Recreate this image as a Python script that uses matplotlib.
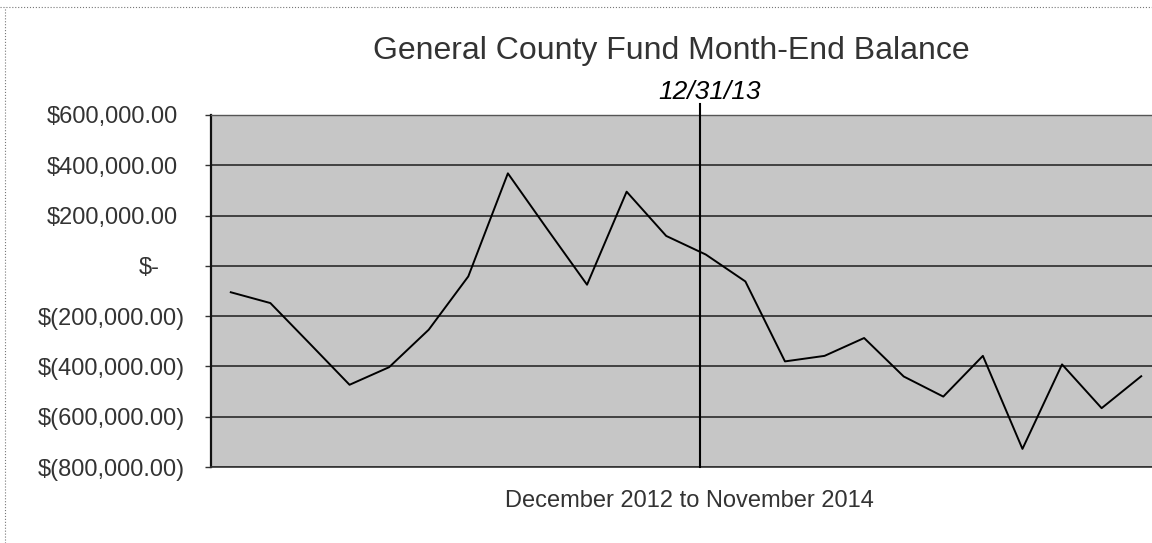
import matplotlib.pyplot as plt
from matplotlib.lines import Line2D

# month-end balances, Dec 2012 .. Nov 2014
months = ["Dec-12", "Jan-13", "Feb-13", "Mar-13", "Apr-13", "May-13", "Jun-13",
          "Jul-13", "Aug-13", "Sep-13", "Oct-13", "Nov-13", "Dec-13", "Jan-14",
          "Feb-14", "Mar-14", "Apr-14", "May-14", "Jun-14", "Jul-14", "Aug-14",
          "Sep-14", "Oct-14", "Nov-14"]
balance = [-105000, -148000, -310000, -473000, -403000, -254000, -42000,
           368000, 145000, -75000, 295000, 119000, 45000, -62000,
           -380000, -358000, -287000, -440000, -520000, -358000, -728000,
           -392000, -566000, -439000]
y_ticks = [600000, 400000, 200000, 0, -200000, -400000, -600000, -800000]
marker_pos = 11.85   # hand-drawn line at 12/31/13
marker_text = "12/31/13"

plt.rcParams['font.family'] = ['Liberation Sans', 'DejaVu Sans']

fig = plt.figure(figsize=(11.52, 5.43), dpi=100)
ax = fig.add_axes([211 / 1152, 76 / 543, 950 / 1152, 352 / 543])
ax.set_facecolor('#c6c6c6')

x = list(range(len(months)))
ax.plot(x, balance, color='black', linewidth=1.4, zorder=3)

ax.set_xlim(-0.5, len(months) - 0.5)
ax.set_ylim(-800000, 600000)
ax.set_xticks([])


def money(v):
    if v == 0:
        return "$-"
    if v < 0:
        return "$({:,.2f})".format(-v)
    return "${:,.2f}".format(v)


ax.set_yticks(y_ticks)
ax.set_yticklabels([money(v) for v in y_ticks], fontsize=17, color='#333333')
ax.tick_params(axis='y', direction='out', length=4, width=1, color='#333333')
for v, tick in zip(y_ticks, ax.yaxis.get_major_ticks()):
    if v < 0:
        tick.set_pad(15)
    elif v == 0:
        tick.set_pad(33)
    else:
        tick.set_pad(20)

ax.yaxis.grid(True, color='#2b2b2b', linewidth=1.2)
ax.set_axisbelow(True)

ax.spines['right'].set_visible(False)
ax.spines['left'].set_color('#111111')
ax.spines['left'].set_linewidth(1.6)
ax.spines['top'].set_color('#555555')
ax.spines['top'].set_linewidth(1.0)
ax.spines['bottom'].set_color('#333333')
ax.spines['bottom'].set_linewidth(1.2)

ax.axvline(marker_pos, ymin=0, ymax=1.03, color='black', linewidth=1.5,
           clip_on=False, zorder=4)

fig.text(671 / 1152, 1 - 59 / 543, "General County Fund Month-End Balance",
         ha='center', va='baseline', fontsize=23, color='#333333')
fig.text(710 / 1152, 1 - 92 / 543, marker_text, ha='center', va='center',
         fontsize=19, style='italic', color='black')
fig.text(689 / 1152, 1 - 507 / 543, "December 2012 to November 2014",
         ha='center', va='baseline', fontsize=17, color='#333333')

# dotted outer chart border (top and left)
fig.add_artist(Line2D([0, 1], [1 - 7 / 543, 1 - 7 / 543], color='#777777',
                      linewidth=0.8, linestyle=':'))
fig.add_artist(Line2D([5 / 1152, 5 / 1152], [0, 1 - 7 / 543], color='#777777',
                      linewidth=0.8, linestyle=':'))

plt.savefig("out.png", dpi=100)
